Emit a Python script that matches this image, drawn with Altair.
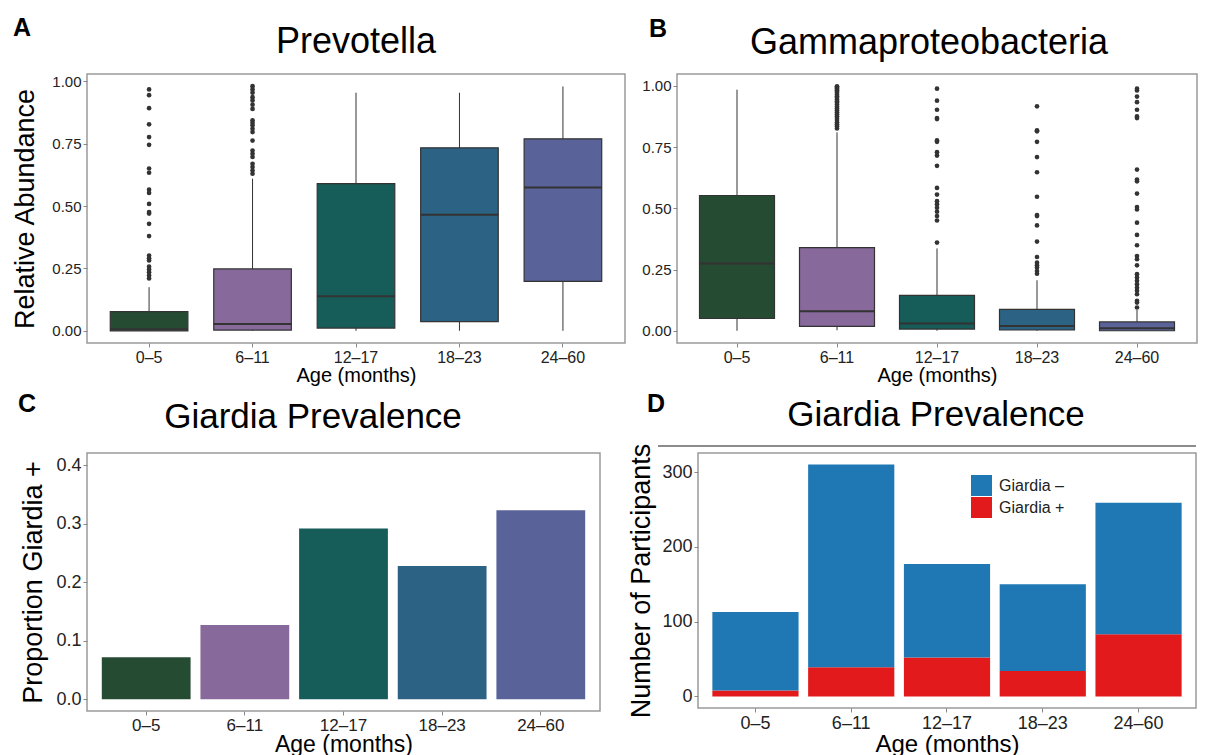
import altair as alt
import pandas as pd

FONT = "Liberation Sans"

ages = ["0–5", "6–11", "12–17", "18–23", "24–60"]
age_colors = ["#264B33", "#87699B", "#165C58", "#2C6283", "#5A6399"]

# Panel A: Prevotella relative abundance (box statistics)
prev_lo = [0.0, 0.0, 0.0, 0.0, 0.0]
prev_q1 = [0.0, 0.003, 0.011, 0.037, 0.198]
prev_med = [0.006, 0.027, 0.139, 0.465, 0.575]
prev_q3 = [0.077, 0.248, 0.590, 0.734, 0.770]
prev_hi = [0.175, 0.610, 0.955, 0.955, 0.980]
prev_out_0_5 = [0.968, 0.945, 0.893, 0.828, 0.777, 0.746, 0.651, 0.634, 0.566, 0.553,
                0.509, 0.476, 0.470, 0.429, 0.380, 0.302, 0.291, 0.282, 0.257, 0.246,
                0.235, 0.222, 0.210]
prev_out_6_11 = [0.981, 0.968, 0.955, 0.937, 0.924, 0.907, 0.890, 0.844, 0.834, 0.824,
                 0.810, 0.797, 0.763, 0.723, 0.710, 0.697, 0.670, 0.657, 0.643, 0.630]

# Panel B: Gammaproteobacteria relative abundance (box statistics)
gam_lo = [0.0, 0.002, 0.0, 0.0, 0.0]
gam_q1 = [0.050, 0.018, 0.007, 0.003, 0.0]
gam_med = [0.275, 0.080, 0.030, 0.019, 0.010]
gam_q3 = [0.552, 0.339, 0.144, 0.087, 0.036]
gam_hi = [0.984, 0.810, 0.336, 0.206, 0.085]
gam_out_6_11 = [0.998, 0.995, 0.991, 0.987, 0.982, 0.976, 0.970, 0.963, 0.957, 0.951,
                0.944, 0.937, 0.931, 0.923, 0.915, 0.908, 0.900, 0.892, 0.884, 0.876,
                0.868, 0.860, 0.851, 0.843, 0.835, 0.826]
gam_out_12_17 = [0.988, 0.939, 0.902, 0.868, 0.864, 0.777, 0.771, 0.729, 0.715, 0.673,
                 0.583, 0.556, 0.529, 0.516, 0.502, 0.486, 0.468, 0.450, 0.360]
gam_out_18_23 = [0.916, 0.818, 0.814, 0.771, 0.709, 0.647, 0.547, 0.472, 0.468, 0.430,
                 0.364, 0.301, 0.278, 0.267, 0.258, 0.244, 0.233]
gam_out_24_60 = [0.988, 0.981, 0.956, 0.933, 0.902, 0.875, 0.868, 0.658, 0.617, 0.610,
                 0.560, 0.505, 0.495, 0.441, 0.391, 0.349, 0.305, 0.292, 0.267, 0.231,
                 0.217, 0.204, 0.190, 0.176, 0.163, 0.149, 0.122, 0.115, 0.095]

# Panel C: proportion Giardia positive
prop_pos = [0.072, 0.127, 0.292, 0.228, 0.323]

# Panel D: participant counts
n_neg = [105, 271, 125, 116, 176]
n_pos = [8, 39, 52, 34, 83]
status_labels = ["Giardia –", "Giardia +"]
status_colors = ["#1F78B4", "#E31A1C"]

BOX_EDGE = "#333333"


def box_stats(lo, q1, med, q3, hi):
    return pd.DataFrame({"age": ages, "lo": lo, "q1": q1, "med": med, "q3": q3, "hi": hi})


def outliers(groups):
    rows = []
    for age, vals in groups:
        for v in vals:
            rows.append({"age": age, "value": v})
    return pd.DataFrame(rows)


def x_enc(pad_inner, pad_outer, label_size, title_size):
    return alt.X(
        "age:N", sort=ages,
        scale=alt.Scale(domain=ages, paddingInner=pad_inner, paddingOuter=pad_outer),
        axis=alt.Axis(title="Age (months)", labelAngle=0, labelFontSize=label_size,
                      titleFontSize=title_size, labelPadding=2, titlePadding=0,
                      tickSize=4, tickColor="#888888", domain=False, labelColor="#222222",
                      titleFontWeight="normal"),
    )


def text_layer(txt, lx, ly, size, weight, align):
    return alt.Chart(pd.DataFrame({"t": [txt]})).mark_text(
        font=FONT, fontSize=size, fontWeight=weight, align=align, baseline="alphabetic",
        color="black"
    ).encode(text="t:N", x=alt.value(lx), y=alt.value(ly))


def box_panel(stats, outs, title, txy, letter, lxy, ytitle, ydomain, width, height):
    xe = x_enc(0.25, 0.225, 16, 20)
    yaxis = alt.Axis(values=[0, 0.25, 0.5, 0.75, 1.0], format=".2f", labelFontSize=15,
                     titleFontSize=27, tickSize=4, tickColor="#888888", domain=False,
                     labelPadding=2, titlePadding=12, labelColor="#222222",
                     titleFontWeight="normal")
    ysc = alt.Scale(domain=ydomain, nice=False, zero=False)
    base = alt.Chart(stats)
    whisk = base.mark_rule(color=BOX_EDGE, strokeWidth=1).encode(
        x=xe, y=alt.Y("lo:Q", scale=ysc, axis=yaxis, title=ytitle), y2="hi:Q")
    box = base.mark_bar(stroke=BOX_EDGE, strokeWidth=1.2).encode(
        x=xe, y=alt.Y("q1:Q", scale=ysc, axis=yaxis, title=ytitle), y2="q3:Q",
        color=alt.Color("age:N", scale=alt.Scale(domain=ages, range=age_colors), legend=None))
    med = base.mark_bar(stroke=BOX_EDGE, strokeWidth=2, fillOpacity=0).encode(
        x=xe, y=alt.Y("med:Q", scale=ysc, axis=yaxis, title=ytitle), y2="med:Q")
    pts = alt.Chart(outs).mark_circle(size=22, color=BOX_EDGE, opacity=1).encode(
        x=xe, y=alt.Y("value:Q", scale=ysc, axis=yaxis, title=ytitle))
    return alt.layer(
        whisk, box, med, pts,
        text_layer(title, txy[0], txy[1], 36, "normal", "center"),
        text_layer(letter, lxy[0], lxy[1], 25, "bold", "left"),
    ).properties(width=width, height=height)


prev_stats = box_stats(prev_lo, prev_q1, prev_med, prev_q3, prev_hi)
prev_outs = outliers([(ages[0], prev_out_0_5), (ages[1], prev_out_6_11)])
gam_stats = box_stats(gam_lo, gam_q1, gam_med, gam_q3, gam_hi)
gam_outs = outliers([(ages[1], gam_out_6_11), (ages[2], gam_out_12_17),
                     (ages[3], gam_out_18_23), (ages[4], gam_out_24_60)])

panel_a = box_panel(prev_stats, prev_outs, "Prevotella", (269, -21), "A", (-74, -38),
                    "Relative Abundance", [-0.049, 1.03], 538, 269)
panel_b = box_panel(gam_stats, gam_outs, "Gammaproteobacteria", (252, -20), "B", (-28, -37),
                    None, [-0.05, 1.048], 520, 269)

# Panel C
c_df = pd.DataFrame({"age": ages, "prop": prop_pos})
c_bars = alt.Chart(c_df).mark_bar().encode(
    x=x_enc(0.1, 0.15, 17, 23),
    y=alt.Y("prop:Q", title="Proportion Giardia +",
            scale=alt.Scale(domain=[-0.02, 0.421], nice=False, zero=False),
            axis=alt.Axis(values=[0, 0.1, 0.2, 0.3, 0.4], format=".1f", labelFontSize=18,
                          titleFontSize=27, tickSize=4, tickColor="#888888", domain=False,
                          labelPadding=2, titlePadding=8, labelColor="#222222",
                          titleFontWeight="normal")),
    y2=alt.datum(0),
    color=alt.Color("age:N", scale=alt.Scale(domain=ages, range=age_colors), legend=None),
)
panel_c = alt.layer(
    c_bars,
    text_layer("Giardia Prevalence", 226, -25, 35, "normal", "center"),
    text_layer("C", -69, -41, 25, "bold", "left"),
).properties(width=513, height=258)

# Panel D
d_rows = []
for i, a in enumerate(ages):
    d_rows.append({"age": a, "status": status_labels[1], "count": n_pos[i], "ord": 0})
    d_rows.append({"age": a, "status": status_labels[0], "count": n_neg[i], "ord": 1})
d_df = pd.DataFrame(d_rows)
d_bars = alt.Chart(d_df).mark_bar().encode(
    x=x_enc(0.1, 0.15, 18, 24),
    y=alt.Y("count:Q", title="Number of Participants", stack="zero",
            scale=alt.Scale(domain=[-15.5, 325.5], nice=False, zero=False),
            axis=alt.Axis(values=[0, 100, 200, 300], labelFontSize=18, titleFontSize=27,
                          tickSize=4, tickColor="#888888", domain=False, labelPadding=2,
                          titlePadding=6, labelColor="#222222", titleFontWeight="normal")),
    color=alt.Color("status:N", scale=alt.Scale(domain=status_labels, range=status_colors),
                    legend=alt.Legend(orient="none", legendX=273, legendY=22, title=None,
                                      symbolType="square", symbolSize=441,
                                      symbolStrokeWidth=0, symbolOpacity=1,
                                      labelFontSize=16, labelOffset=7, rowPadding=1,
                                      padding=0, labelColor="#222222")),
    order=alt.Order("ord:Q"),
)
d_line = alt.Chart(pd.DataFrame({"k": [0]})).mark_rule(color="#666666", strokeWidth=1.5).encode(
    x=alt.value(-40), x2=alt.value(498), y=alt.value(-7))
panel_d = alt.layer(
    d_bars, d_line,
    text_layer("Giardia Prevalence", 238, -27, 35, "normal", "center"),
    text_layer("D", -51, -41, 25, "bold", "left"),
).properties(width=498, height=255)

row1 = alt.hconcat(panel_a, panel_b, spacing=15).resolve_scale(color="independent")
row2 = alt.hconcat(panel_c, panel_d, spacing=26).resolve_scale(color="independent")
chart = alt.vconcat(row1, row2, spacing=5).resolve_scale(
    color="independent"
).configure(
    font=FONT, padding={"left": 3, "top": 7, "right": 0, "bottom": 0}
).configure_view(
    stroke="#9A9A9A", strokeWidth=1.5
).configure_axis(
    grid=False
)

chart.save("out.html", embed_options={"renderer": "svg", "actions": False})
